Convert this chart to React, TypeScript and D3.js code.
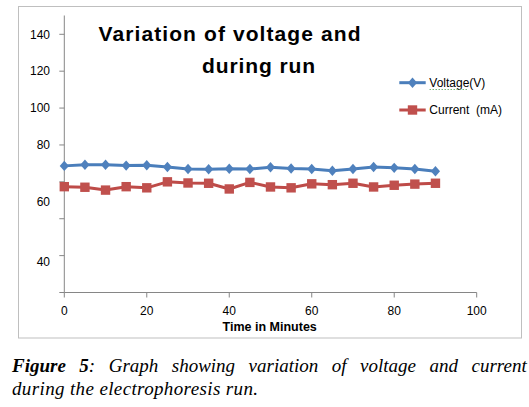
import React, { useLayoutEffect, useRef, useState } from "react";
import * as d3 from "d3";

// ---- data ----
const minutes = [0, 5, 10, 15, 20, 25, 30, 35, 40, 45, 50, 55, 60, 65, 70, 75, 80, 85, 90];
const voltage = [72.5, 72.9, 72.9, 72.6, 72.7, 72.1, 71.4, 71.3, 71.5, 71.4, 72.0, 71.6, 71.4, 70.8, 71.4, 72.1, 71.8, 71.4, 70.6];
const current = [65.2, 65.0, 64.0, 65.2, 64.8, 66.9, 66.5, 66.4, 64.4, 66.7, 65.1, 64.8, 66.2, 65.9, 66.4, 65.1, 65.7, 66.1, 66.4];
const xTicks = [0, 20, 40, 60, 80, 100];
const yTickLabels = [140, 120, 100, 80, 60, 40];
const seriesNames = ["Voltage(V)", "Current  (mA)"];
const titleLines = ["Variation of voltage and", "during run"];
const xTitle = "Time in Minutes";
const captionBold = "Figure 5";
const captionRest = ": Graph showing variation of voltage and current";
const captionLine2 = "during the electrophoresis run.";

const BLUE = "#4F81BD";
const BLUE_LINE = "#4A7EBB";
const RED = "#C0504D";
const RED_LINE = "#BE4B48";
const AXIS = "#868686";

export default function App() {
  const W = 529;
  const H = 407;
  const x = d3.scaleLinear().domain([0, 100]).range([64.3, 476.7]);
  // the printed value axis is not evenly spaced; a polylinear scale follows its labels
  const y = d3
    .scaleLinear()
    .domain([30, 40, 60, 80, 140, 150])
    .range([292.5, 261.7, 201.5, 144.5, 34.3, 15.5]);
  const yBottom = y(30);
  const yTop = y(150);
  const tickMarkScale = d3.scaleLinear().domain([0, 7]).range([yBottom, y(140)]);
  const tickMarks = d3.range(8).map((i) => tickMarkScale(i));

  const line = d3
    .line<number>()
    .x((_, i) => x(minutes[i]))
    .y((d) => y(d));

  const diamond = (cx: number, cy: number) =>
    `M${cx},${cy - 5.2}L${cx + 4.6},${cy}L${cx},${cy + 5.2}L${cx - 4.6},${cy}Z`;

  const capRef = useRef<SVGTextElement>(null);
  const [wordSpacing, setWordSpacing] = useState(0);
  useLayoutEffect(() => {
    const el = capRef.current;
    if (!el) return;
    const natural = el.getComputedTextLength();
    const target = 526.7 - 12;
    const spaces = (captionBold + captionRest).split(" ").length - 1;
    setWordSpacing((target - natural) / spaces);
  }, []);

  return (
    <svg
      width={W}
      height={H}
      style={{ position: "absolute", left: 0, top: 0, background: "#fff" }}
      fontFamily="'Liberation Sans', Arial, sans-serif"
    >
      <rect x={18.5} y={6.5} width={503} height={331.5} fill="#fff" stroke="#bfbfbf" strokeWidth={1} />

      {/* title */}
      <text x={98.5} y={41} fontSize={21} fontWeight="bold" textLength={262} lengthAdjust="spacing" fill="#000">
        {titleLines[0]}
      </text>
      <text x={202} y={73} fontSize={21} fontWeight="bold" textLength={113} lengthAdjust="spacing" fill="#000">
        {titleLines[1]}
      </text>

      {/* y axis */}
      <line x1={x(0)} x2={x(0)} y1={yTop} y2={yBottom} stroke={AXIS} strokeWidth={1} />
      {tickMarks.map((t, i) => (
        <line key={i} x1={x(0) - 5} x2={x(0)} y1={t} y2={t} stroke={AXIS} strokeWidth={1} />
      ))}
      {yTickLabels.map((v) => (
        <text key={v} x={50} y={y(v)} dy="0.35em" textAnchor="end" fontSize={12} fill="#000">
          {v}
        </text>
      ))}

      {/* x axis */}
      <line x1={x(0)} x2={x(100)} y1={yBottom} y2={yBottom} stroke={AXIS} strokeWidth={1} />
      {xTicks.map((v) => (
        <g key={v}>
          <line x1={x(v)} x2={x(v)} y1={yBottom} y2={yBottom + 5} stroke={AXIS} strokeWidth={1} />
          <text x={x(v)} y={315} textAnchor="middle" fontSize={12} fill="#000">
            {v}
          </text>
        </g>
      ))}
      <text x={269.7} y={331} textAnchor="middle" fontSize={12.5} fontWeight="bold" fill="#000">
        {xTitle}
      </text>

      {/* series */}
      <path d={line(current) || ""} fill="none" stroke={RED_LINE} strokeWidth={3} strokeLinejoin="round" />
      {current.map((v, i) => (
        <rect key={i} x={x(minutes[i]) - 4.7} y={y(v) - 4.7} width={9.4} height={9.4} fill={RED} />
      ))}
      <path d={line(voltage) || ""} fill="none" stroke={BLUE_LINE} strokeWidth={3} strokeLinejoin="round" />
      {voltage.map((v, i) => (
        <path key={i} d={diamond(x(minutes[i]), y(v))} fill={BLUE} />
      ))}

      {/* legend */}
      <line x1={399.3} x2={425.7} y1={82.7} y2={82.7} stroke={BLUE_LINE} strokeWidth={3} />
      <path d={diamond(412.5, 82.7)} fill={BLUE} />
      <text x={429.3} y={82.7} dy="0.35em" fontSize={12} fill="#000">
        {seriesNames[0]}
      </text>
      <line x1={429.5} x2={467} y1={89.5} y2={89.5} stroke="#7ab37a" strokeWidth={1} strokeDasharray="1.5,1.5" />
      <line x1={399.3} x2={425.7} y1={110} y2={110} stroke={RED_LINE} strokeWidth={3} />
      <rect x={412.5 - 4.7} y={110 - 4.7} width={9.4} height={9.4} fill={RED} />
      <text x={429.3} y={110} dy="0.35em" fontSize={12} fill="#000" style={{ whiteSpace: "pre" }}>
        {seriesNames[1]}
      </text>

      {/* caption */}
      <text
        ref={capRef}
        x={12}
        y={371.7}
        fontFamily="'Liberation Serif', 'Times New Roman', serif"
        fontStyle="italic"
        fontSize={19}
        fill="#000"
        style={{ wordSpacing: `${wordSpacing}px` }}
      >
        <tspan fontWeight="bold">{captionBold}</tspan>
        <tspan>{captionRest}</tspan>
      </text>
      <text
        x={12}
        y={395}
        fontFamily="'Liberation Serif', 'Times New Roman', serif"
        fontStyle="italic"
        fontSize={19}
        fill="#000"
        textLength={246}
        lengthAdjust="spacing"
      >
        {captionLine2}
      </text>
    </svg>
  );
}
